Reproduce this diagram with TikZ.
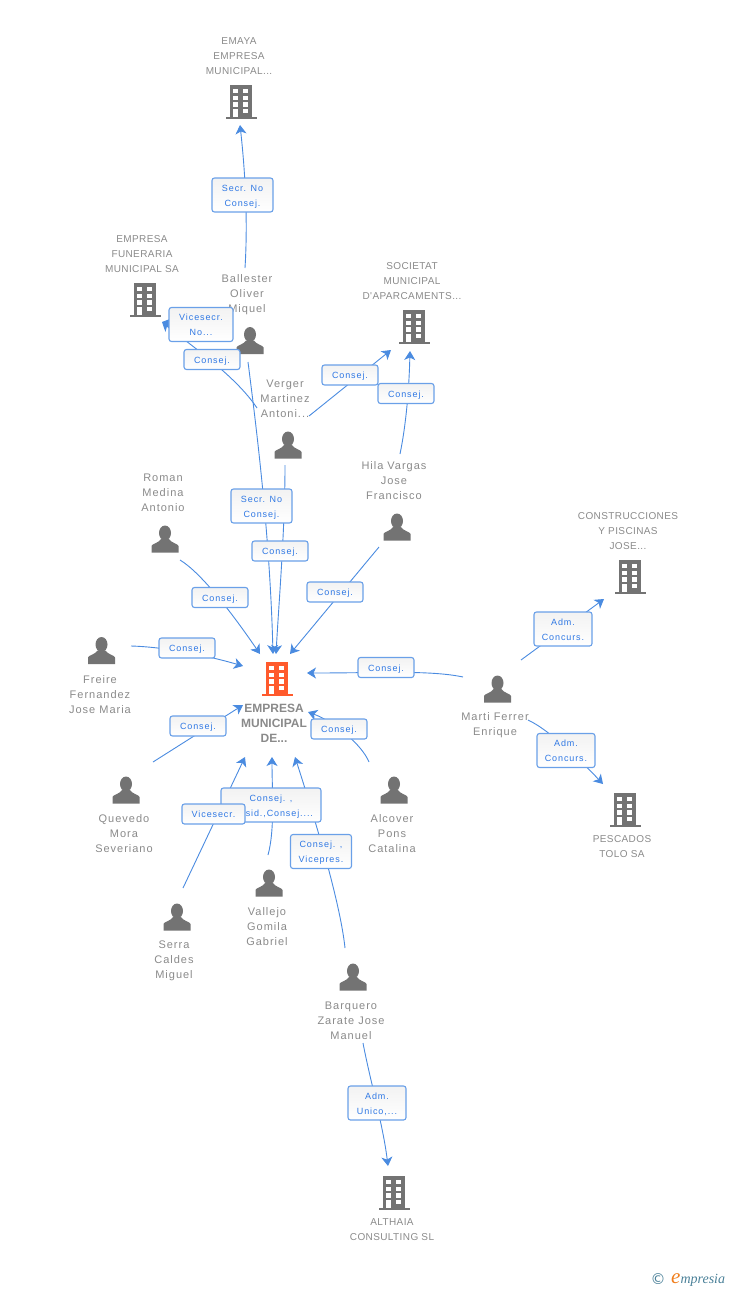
\documentclass[tikz,border=0pt]{standalone}
\usepackage{fontspec}
\setmainfont{Liberation Sans}
\newfontfamily\firmfont[LetterSpace=4]{Liberation Sans}
\newfontfamily\namefont[LetterSpace=9]{Liberation Sans}
\newfontfamily\rolefont[LetterSpace=10]{Liberation Sans}
\newfontfamily\logofont{Liberation Serif}
\newfontfamily\copyfont{DejaVu Sans}
\usetikzlibrary{arrows.meta, backgrounds}
\definecolor{icongray}{HTML}{737373}
\definecolor{iconorange}{HTML}{FF5A2C}
\definecolor{linkblue}{HTML}{4A8BE0}
\definecolor{boxblue}{HTML}{6AA0E8}
\definecolor{roleblue}{HTML}{2F78E4}
\definecolor{textgray}{HTML}{8A8A8A}
\definecolor{logoteal}{HTML}{4A8098}
\definecolor{logoorange}{HTML}{F07F1E}
\tikzset{
    building/.pic={
        \path[pic actions] (-11,-17) rectangle (11,15);
        \path[pic actions] (-15.5,15) rectangle (15.5,17);
        \foreach \y in {-13,-6.4,0.3} {
            \fill[white] (-7.7,\y) rectangle ++(4.7,4.4);
            \fill[white] (2.3,\y) rectangle ++(4.7,4.4);
        }
        \fill[white] (-7.7,7) rectangle (-3,15);
        \fill[white] (2.3,7) rectangle (7,11.4);
    },
    person/.pic={
        \path[pic actions] (0,-6) ellipse (6 and 7.5);
        \path[pic actions] (-13.5,13.5) -- (-13.5,7) .. controls (-13,4.5) and (-6,4) .. (-4,0) -- (4,0) .. controls (6,4) and (13,4.5) .. (13.5,7) -- (13.5,13.5) -- cycle;
    },
    firm/.style={align=center, text=textgray, font=\firmfont\fontsize{10}{15}\selectfont, inner sep=0pt},
    who/.style={align=center, text=textgray, font=\namefont\fontsize{11}{15}\selectfont, inner sep=0pt, yshift=-1.5pt},
    mainfirm/.style={align=center, text=textgray, font=\bfseries\fontsize{12}{15}\selectfont, inner sep=0pt},
    rolebox/.style={draw=boxblue, line width=1.1pt, rounded corners=2.5pt, top color=black!5, bottom color=white, align=center, text=roleblue, font=\rolefont\fontsize{9}{15}\selectfont, inner sep=0pt, minimum width=56pt, minimum height=20pt, text height=9.6pt, text depth=2pt},
    rolewide/.style={rolebox, minimum width=61pt, minimum height=34pt, text height=24.5pt},
    link/.style={draw=linkblue, line width=0.9pt},
    linkto/.style={link, -{Stealth[length=9pt,width=11pt,inset=2.5pt]}},
}
\begin{document}
\begin{tikzpicture}[x=1pt,y=-1pt]
    \useasboundingbox (0,0) rectangle (728,1290);

    % companies
    \pic[fill=iconorange] (centre) at (277,679) {building};
    \pic[fill=icongray] (emaya) at (241,102) {building};
    \pic[fill=icongray] (funeraria) at (145,300) {building};
    \pic[fill=icongray] (societat) at (414,327) {building};
    \pic[fill=icongray] (piscinas) at (630,577) {building};
    \pic[fill=icongray] (pescados) at (625,810) {building};
    \pic[fill=icongray] (althaia) at (394,1193) {building};
    \node[mainfirm] (centrelabel) at (274,723) {EMPRESA\\MUNICIPAL\\DE...};
    \node[firm] (emayalabel) at (239,56) {EMAYA\\EMPRESA\\MUNICIPAL...};
    \node[firm] (funerarialabel) at (142,254) {EMPRESA\\FUNERARIA\\MUNICIPAL SA};
    \node[firm] (societatlabel) at (412,281) {SOCIETAT\\MUNICIPAL\\D'APARCAMENTS...};
    \node[firm] (piscinaslabel) at (628,531) {CONSTRUCCIONES\\Y PISCINAS\\JOSE...};
    \node[firm] (pescadoslabel) at (622,846.5) {PESCADOS\\TOLO SA};
    \node[firm] (althaialabel) at (392,1229.5) {ALTHAIA\\CONSULTING SL};

    % people
    \pic[fill=icongray] (ballester) at (250,340.5) {person};
    \pic[fill=icongray] (verger) at (288,445) {person};
    \pic[fill=icongray] (hila) at (397,527) {person};
    \pic[fill=icongray] (roman) at (165,539) {person};
    \pic[fill=icongray] (freire) at (101.5,650.5) {person};
    \pic[fill=icongray] (quevedo) at (126,790) {person};
    \pic[fill=icongray] (serra) at (177,917) {person};
    \pic[fill=icongray] (vallejo) at (269,883) {person};
    \pic[fill=icongray] (barquero) at (353,977) {person};
    \pic[fill=icongray] (alcover) at (394,790) {person};
    \pic[fill=icongray] (marti) at (497.5,689) {person};
    \node[who] (ballesterlabel) at (247,293) {Ballester\\Oliver\\Miquel};
    \node[who] (vergerlabel) at (285,397) {Verger\\Martinez\\Antoni...};
    \node[who] (hilalabel) at (394,479) {Hila Vargas\\Jose\\Francisco};
    \node[who] (romanlabel) at (163,491) {Roman\\Medina\\Antonio};
    \node[who] (freirelabel) at (100,693) {Freire\\Fernandez\\Jose Maria};
    \node[who] (quevedolabel) at (124,832) {Quevedo\\Mora\\Severiano};
    \node[who] (serralabel) at (174,959) {Serra\\Caldes\\Miguel};
    \node[who] (vallejolabel) at (267,925) {Vallejo\\Gomila\\Gabriel};
    \node[who] (barquerolabel) at (351,1019) {Barquero\\Zarate Jose\\Manuel};
    \node[who] (alcoverlabel) at (392,832) {Alcover\\Pons\\Catalina};
    \node[who] (martilabel) at (495,723.5) {Marti Ferrer\\Enrique};

    % roles
    \node[rolewide] (r1) at (242.5,195) {Secr. No\\Consej.};
    \node[rolewide, minimum width=64pt] (r2) at (201,324.5) {Vicesecr.\\No...};
    \node[rolebox] (r3) at (212,359.5) {Consej.};
    \node[rolebox] (r4) at (350,375) {Consej.};
    \node[rolebox] (r5) at (406,393.5) {Consej.};
    \node[rolewide] (r6) at (261.5,506) {Secr. No\\Consej.};
    \node[rolebox] (r7) at (280,551) {Consej.};
    \node[rolebox] (r8) at (335,592) {Consej.};
    \node[rolebox] (r9) at (220,597.5) {Consej.};
    \node[rolebox] (r10) at (187,648) {Consej.};
    \node[rolebox] (r11) at (386,667.5) {Consej.};
    \node[rolebox] (r12) at (198,726) {Consej.};
    \node[rolebox] (r13) at (339,729) {Consej.};
    \node[rolewide, minimum width=100pt] (r14) at (271,805) {Consej. ,\\Presid.,Consej....};
    \node[rolebox, minimum width=63pt] (r15) at (213.5,814) {Vicesecr.};
    \node[rolewide] (r16) at (321,851.5) {Consej. ,\\Vicepres.};
    \node[rolewide, minimum width=58pt] (r17) at (377,1103) {Adm.\\Unico,...};
    \node[rolewide, minimum width=58pt] (r18) at (563,629) {Adm.\\Concurs.};
    \node[rolewide, minimum width=58pt] (r19) at (566,750.5) {Adm.\\Concurs.};

    % free ends of the links
    \coordinate (e1) at (245,268);
    \coordinate (e2) at (240,125);
    \coordinate (e3) at (230,335);
    \coordinate (e4) at (162,322);
    \coordinate (e5) at (257,408);
    \coordinate (e6) at (309,416);
    \coordinate (e7) at (391,350);
    \coordinate (e8) at (400,454);
    \coordinate (e9) at (410,351);
    \coordinate (e10) at (248,362);
    \coordinate (e11) at (273,654);
    \coordinate (e12) at (285,465);
    \coordinate (e13) at (276,654);
    \coordinate (e14) at (379,547);
    \coordinate (e15) at (290,654);
    \coordinate (e16) at (180,560);
    \coordinate (e17) at (260,654);
    \coordinate (e18) at (131,646);
    \coordinate (e19) at (243,666);
    \coordinate (e20) at (463,677);
    \coordinate (e21) at (307,673);
    \coordinate (e22) at (153,762);
    \coordinate (e23) at (243,705);
    \coordinate (e24) at (369,762);
    \coordinate (e25) at (308,712);
    \coordinate (e26) at (183,888);
    \coordinate (e27) at (245,757);
    \coordinate (e28) at (268,855);
    \coordinate (e29) at (272,757);
    \coordinate (e30) at (345,948);
    \coordinate (e31) at (295,757);
    \coordinate (e32) at (363,1043);
    \coordinate (e33) at (388,1166);
    \coordinate (e34) at (521,660);
    \coordinate (e35) at (604,599);
    \coordinate (e36) at (528,720);
    \coordinate (e37) at (603,784);

    \begin{scope}[on background layer]
        \draw[linkto] (e1) .. controls (248,220) and (245,170) .. (e2);
        \draw[linkto] (e3) -- (e4);
        \draw[linkto] (e5) .. controls (235,375) and (190,345) .. (e4);
        \draw[linkto] (e6) -- (e7);
        \draw[linkto] (e8) .. controls (406,425) and (409,390) .. (e9);
        \draw[linkto] (e10) .. controls (258,440) and (270,540) .. (e11);
        \draw[linkto] (e12) .. controls (285,530) and (279,600) .. (e13);
        \draw[linkto] (e14) -- (e15);
        \draw[linkto] (e16) .. controls (200,572) and (230,610) .. (e17);
        \draw[linkto] (e18) .. controls (165,647) and (205,655) .. (e19);
        \draw[linkto] (e20) .. controls (430,670) and (380,673) .. (e21);
        \draw[linkto] (e22) -- (e23);
        \draw[linkto] (e24) .. controls (362,745) and (335,722) .. (e25);
        \draw[linkto] (e26) -- (e27);
        \draw[linkto] (e28) .. controls (275,830) and (272,790) .. (e29);
        \draw[linkto] (e30) .. controls (340,900) and (312,810) .. (e31);
        \draw[linkto] (e32) .. controls (370,1080) and (383,1125) .. (e33);
        \draw[linkto] (e34) -- (e35);
        \draw[linkto] (e36) .. controls (550,730) and (585,765) .. (e37);
    \end{scope}

    % logo
    \node[text=logoteal, inner sep=0pt, font=\copyfont\fontsize{15}{15}\selectfont] (copy) at (658,1279) {©};
    \node[anchor=base west, inner sep=0pt, text=logoteal, font=\logofont\itshape\fontsize{14}{14}\selectfont] (logo) at (671,1283) {{\color{logoorange}\fontsize{21}{21}\selectfont e}mpresia};
\end{tikzpicture}
\end{document}
